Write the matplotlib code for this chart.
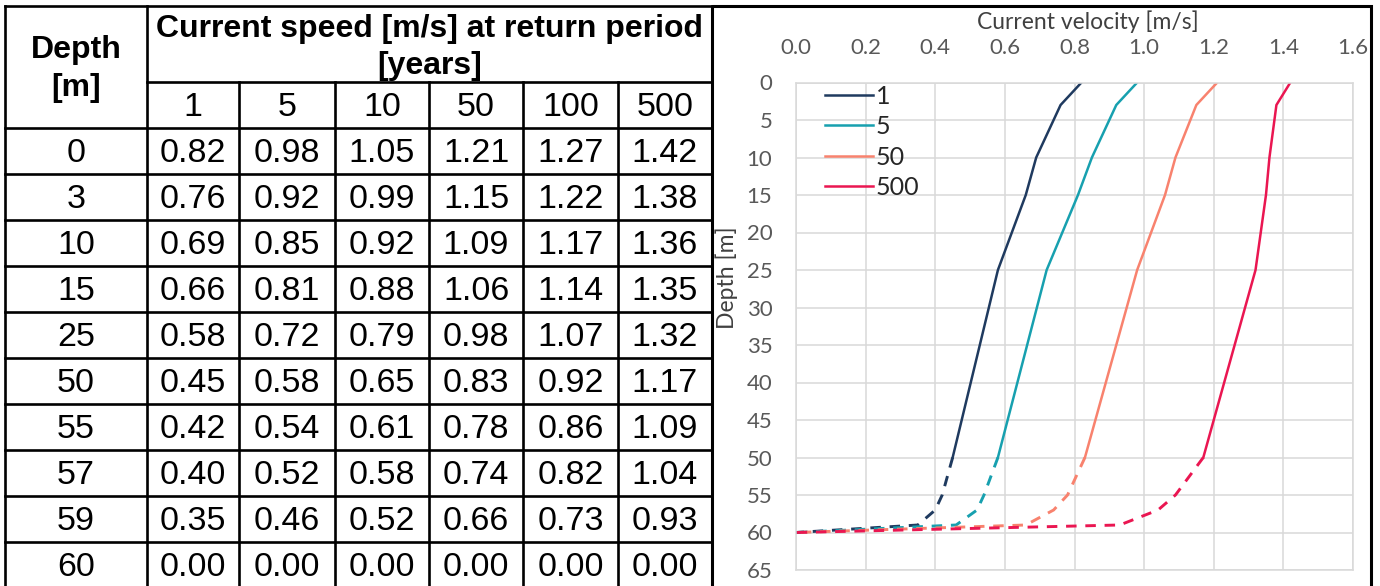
import matplotlib
matplotlib.use("Agg")
import matplotlib.pyplot as plt
from matplotlib.patches import Rectangle

# dados da tabela
profundidades = [0, 3, 10, 15, 25, 50, 55, 57, 59, 60]
periodos = ["1", "5", "10", "50", "100", "500"]
vel_1 = [0.82, 0.76, 0.69, 0.66, 0.58, 0.45, 0.42, 0.40, 0.35, 0.00]
vel_5 = [0.98, 0.92, 0.85, 0.81, 0.72, 0.58, 0.54, 0.52, 0.46, 0.00]
vel_10 = [1.05, 0.99, 0.92, 0.88, 0.79, 0.65, 0.61, 0.58, 0.52, 0.00]
vel_50 = [1.21, 1.15, 1.09, 1.06, 0.98, 0.83, 0.78, 0.74, 0.66, 0.00]
vel_100 = [1.27, 1.22, 1.17, 1.14, 1.07, 0.92, 0.86, 0.82, 0.73, 0.00]
vel_500 = [1.42, 1.38, 1.36, 1.35, 1.32, 1.17, 1.09, 1.04, 0.93, 0.00]

tabela = [vel_1, vel_5, vel_10, vel_50, vel_100, vel_500]

# series no grafico
series_grafico = [("1", vel_1, "#1f3a5f"), ("5", vel_5, "#17a0af"),
                  ("50", vel_50, "#f8826e"), ("500", vel_500, "#ea1651")]
prof_limite = 50  # a partir daqui a linha fica tracejada

W, H = 1380, 586
fig = plt.figure(figsize=(W / 100, H / 100), dpi=100)

# camada de desenho em pixels para a tabela
base = fig.add_axes([0, 0, 1, 1])
base.set_xlim(0, W)
base.set_ylim(H, 0)
base.axis("off")

lw_tab = 1.9
x_cols = [5, 147, 239, 335, 429, 523, 618, 712]
y_top, y_sub, y_hdr = 6, 82, 128
passo = 46
y_fim = y_hdr + passo * len(profundidades)

def linha(x0, y0, x1, y1):
    base.plot([x0, x1], [y0, y1], color="black", lw=lw_tab, solid_capstyle="projecting")

linha(x_cols[0], y_top, x_cols[-1], y_top)
linha(x_cols[1], y_sub, x_cols[-1], y_sub)
for i in range(len(profundidades)):
    linha(x_cols[0], y_hdr + passo * i, x_cols[-1], y_hdr + passo * i)
linha(x_cols[0], y_top, x_cols[0], y_fim)
linha(x_cols[1], y_top, x_cols[1], y_fim)
linha(x_cols[-1], y_top, x_cols[-1], y_fim)
for x in x_cols[2:-1]:
    linha(x, y_sub, x, y_fim)

fonte_tab = "Liberation Sans"
tam = 24.5
tam_neg = 23
base.text((x_cols[0] + x_cols[1]) / 2, 50, "Depth", ha="center", va="center",
          fontsize=tam_neg, fontweight="bold", family=fonte_tab)
base.text((x_cols[0] + x_cols[1]) / 2, 88, "[m]", ha="center", va="center",
          fontsize=tam_neg, fontweight="bold", family=fonte_tab)
base.text((x_cols[1] + x_cols[-1]) / 2, 29, "Current speed [m/s] at return period",
          ha="center", va="center", fontsize=tam_neg, fontweight="bold", family=fonte_tab)
base.text((x_cols[1] + x_cols[-1]) / 2, 66, "[years]", ha="center", va="center",
          fontsize=tam_neg, fontweight="bold", family=fonte_tab)
for j, p in enumerate(periodos):
    xc = (x_cols[j + 1] + x_cols[j + 2]) / 2
    base.text(xc, 107, p, ha="center", va="center", fontsize=tam, family=fonte_tab)

for i, prof in enumerate(profundidades):
    yc = y_hdr + passo * (i + 0.5) + 2
    base.text((x_cols[0] + x_cols[1]) / 2, yc, str(prof), ha="center", va="center",
              fontsize=tam, family=fonte_tab)
    for j, col in enumerate(tabela):
        xc = (x_cols[j + 1] + x_cols[j + 2]) / 2
        base.text(xc, yc, f"{col[i]:.2f}", ha="center", va="center",
                  fontsize=tam, family=fonte_tab)

# moldura do grafico
base.add_patch(Rectangle((712, 6), 1371 - 712, 620, fill=False, ec="black", lw=2.2))

# grafico
ax_l, ax_r, ax_t, ax_b = 796, 1353, 82.5, 570
ax = fig.add_axes([ax_l / W, 1 - ax_b / H, (ax_r - ax_l) / W, (ax_b - ax_t) / H])
ax.patch.set_alpha(0)
fonte_graf = "Lato"

for nome, vel, cor in series_grafico:
    sup = [k for k, p in enumerate(profundidades) if p <= prof_limite]
    inf = [k for k, p in enumerate(profundidades) if p >= prof_limite]
    ax.plot([vel[k] for k in sup], [profundidades[k] for k in sup], color=cor, lw=1.8,
            label=nome)
    ax.plot([vel[k] for k in inf], [profundidades[k] for k in inf], color=cor, lw=2.1,
            dashes=(3.6, 3))

ax.set_xlim(0, 1.6)
ax.set_ylim(65, 0)
ax.set_xticks([0, 0.2, 0.4, 0.6, 0.8, 1.0, 1.2, 1.4, 1.6])
ax.set_yticks(range(0, 66, 5))
ax.xaxis.tick_top()
ax.xaxis.set_major_formatter(matplotlib.ticker.FormatStrFormatter("%.1f"))
ax.tick_params(length=0, labelsize=16, labelcolor="#595959")
ax.tick_params(axis="x", pad=18)
ax.tick_params(axis="y", pad=17)
for lab in ax.get_xticklabels() + ax.get_yticklabels():
    lab.set_family(fonte_graf)
ax.grid(True, color="#d9d9d9", lw=1.1)
for s in ax.spines.values():
    s.set_color("#d9d9d9")
    s.set_linewidth(1.1)

fig.text(1088 / W, 1 - 22 / H, "Current velocity [m/s]", ha="center", va="center",
         fontsize=16.5, color="#404040", family=fonte_graf)
fig.text(727 / W, 1 - 278 / H, "Depth [m]", ha="center", va="center", rotation=90,
         fontsize=16.5, color="#404040", family=fonte_graf)

leg = ax.legend(loc="upper left", bbox_to_anchor=(0.035, 1.016), frameon=False,
                prop={"family": fonte_graf, "size": 18}, handlelength=1.9,
                handletextpad=0.1, labelspacing=0.3, borderaxespad=0)
for t in leg.get_texts():
    t.set_color("#262626")

fig.savefig("out.png", dpi=100)
